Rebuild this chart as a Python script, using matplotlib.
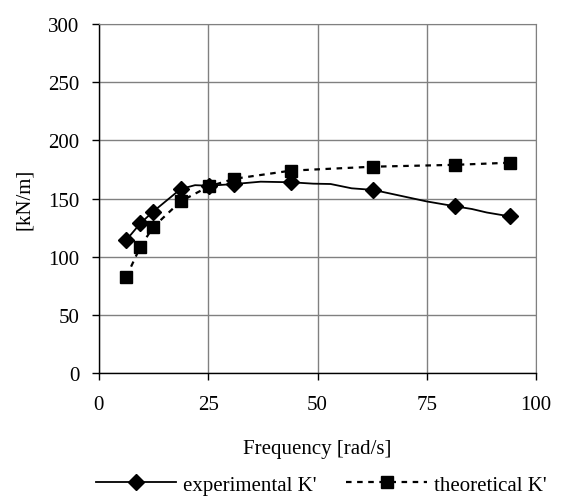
import matplotlib.pyplot as plt
from matplotlib.lines import Line2D

# experimental stiffness: measured curve, diamonds on the tested frequencies
exp_freq = [6.3, 9.5, 12.4, 18.7, 22.0, 25.2, 31.0, 37.0, 43.9, 49.0, 53.0, 57.8,
            62.8, 75.0, 81.5, 85.3, 88.7, 93.9]
exp_k = [114.4, 128.7, 138.7, 158.2, 161.5, 161.0, 162.5, 164.5, 164.0, 162.8, 162.5, 158.8,
         157.4, 147.5, 143.3, 141.0, 138.0, 134.7]
exp_marks = [0, 1, 2, 3, 5, 6, 8, 12, 14, 17]

# theoretical stiffness
th_freq = [6.3, 9.5, 12.4, 18.7, 25.2, 31.0, 43.9, 62.8, 81.5, 93.9]
th_k = [82.8, 108.6, 125.3, 147.6, 160.5, 167.0, 174.0, 177.4, 179.0, 180.8]

x_ticks = [0, 25, 50, 75, 100]
y_ticks = [0, 50, 100, 150, 200, 250, 300]

plt.rcParams['font.family'] = ['Liberation Serif', 'DejaVu Serif']
plt.rcParams['font.size'] = 15

fig = plt.figure(figsize=(5.68, 5.02), dpi=100)
ax = fig.add_axes([0.174, 0.255, 0.770, 0.695])

ax.plot(exp_freq, exp_k, color='black', lw=1.3, marker='D', ms=8.5,
        markevery=exp_marks, zorder=3)
ax.plot(th_freq, th_k, color='black', lw=1.6, ls=(0, (2.5, 2.5)), marker='s', ms=8.5,
        zorder=3)

ax.set_xlim(0, 100)
ax.set_ylim(0, 300)
ax.set_xticks(x_ticks)
ax.set_yticks(y_ticks)
ax.grid(True, color='#808080', lw=1.0)
ax.set_axisbelow(True)
for side in ['top', 'right']:
    ax.spines[side].set_color('#808080')
for side in ['left', 'bottom']:
    ax.spines[side].set_color('black')
    ax.spines[side].set_linewidth(1.0)
ax.tick_params(direction='out', length=5, width=1.0, pad=9)
ax.tick_params(axis='x', pad=11)

ax.set_xlabel('Frequency [rad/s]', labelpad=18)
ax.set_ylabel('[kN/m]', labelpad=10)

handles = [
    Line2D([], [], color='black', lw=1.3, marker='D', ms=8.5),
    Line2D([], [], color='black', lw=1.6, ls=(0, (2.5, 2.5)), marker='s', ms=8.5),
]
fig.legend(handles, ["experimental K'", "theoretical K'"], loc='center',
           bbox_to_anchor=(0.565, 0.032), ncol=2, frameon=False,
           handlelength=3.85, columnspacing=1.45, handletextpad=0.33)

fig.savefig('out.png', dpi=100)
